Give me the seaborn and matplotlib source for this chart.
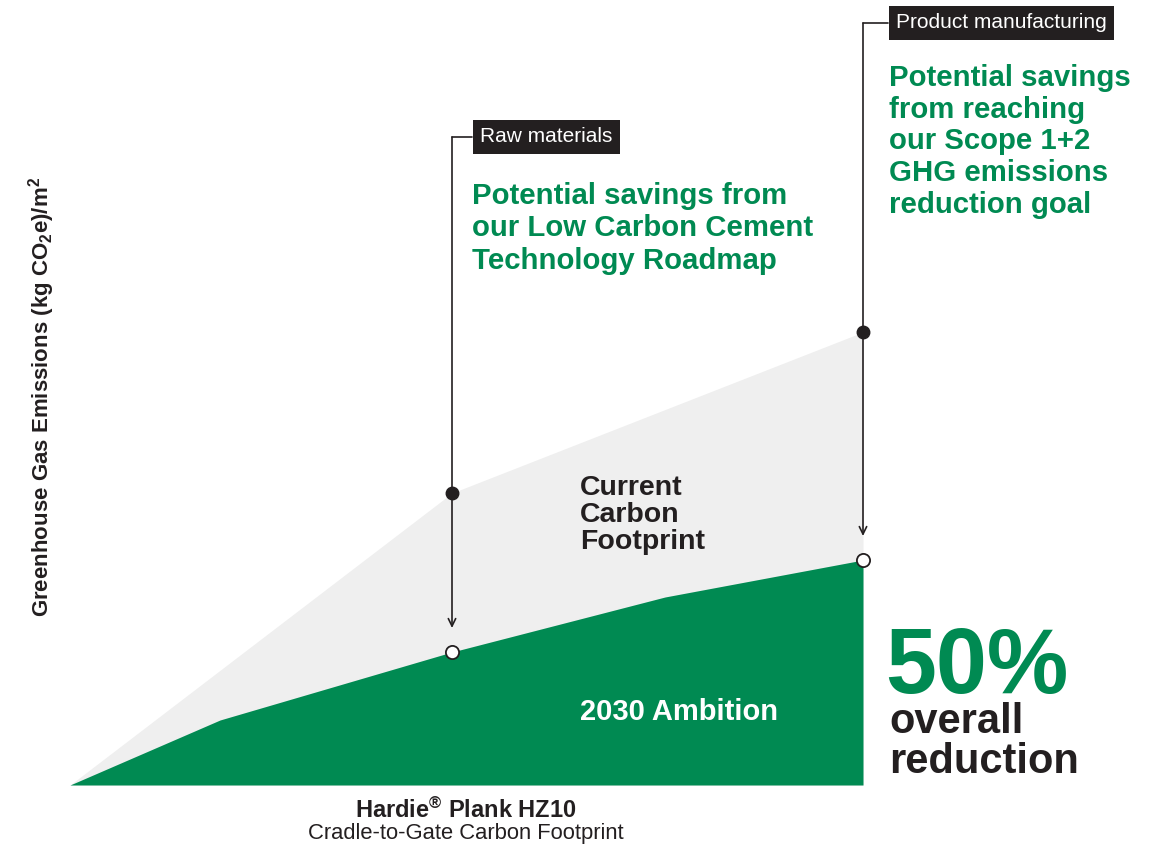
import matplotlib
matplotlib.use("Agg")
import matplotlib.pyplot as plt
import seaborn as sns
import numpy as np
import pandas as pd

sns.set_theme(style="white")
plt.rcParams["font.family"] = ["Liberation Sans", "DejaVu Sans"]
plt.rcParams["mathtext.default"] = "regular"

# 数据 (任意单位, 横轴为生命周期阶段)
current_x = [0, 382, 793]
current_y = [0, 292, 453]
ambition_x = [0, 150, 382, 595, 793]
ambition_y = [0, 65, 133, 188, 225]
stage_names = ["Raw materials", "Product manufacturing"]
stage_x = [382, 793]

GREEN = "#008A52"
GREY = "#EFEFEF"
DARK = "#231F20"

fig = plt.figure(figsize=(11.56, 8.44), dpi=100)
ax = fig.add_axes([70 / 1156, 59 / 844, 793 / 1156, 785 / 844])

cur = pd.DataFrame({"x": current_x, "y": current_y})
amb = pd.DataFrame({"x": ambition_x, "y": ambition_y})

# 当前碳足迹 (灰色) 和 2030目标 (绿色)
sns.lineplot(data=cur, x="x", y="y", ax=ax, color=GREY, lw=0)
ax.fill_between(cur["x"], 0, cur["y"], color=GREY, lw=0)
sns.lineplot(data=amb, x="x", y="y", ax=ax, color=GREEN, lw=0)
ax.fill_between(amb["x"], 0, amb["y"], color=GREEN, lw=0)

ax.set_xlim(0, 793)
ax.set_ylim(0, 785)
ax.axis("off")

# 阶段标注: 竖线, 箭头, 点
label_y = [648, 762]
label_gap = [20, 25]
for name, sx, ly, gap in zip(stage_names, stage_x, label_y, label_gap):
    y_top = np.interp(sx, current_x, current_y)
    y_bot = np.interp(sx, ambition_x, ambition_y)
    ax.plot([sx, sx + gap], [ly, ly], color=DARK, lw=1.2, clip_on=False)
    ax.annotate("", xy=(sx, y_bot + 24), xytext=(sx, ly),
                arrowprops=dict(arrowstyle="->,head_length=0.45,head_width=0.22",
                                color=DARK, lw=1.2, shrinkA=0, shrinkB=0),
                annotation_clip=False)
    ax.plot(sx, y_top, "o", ms=9, color=DARK, clip_on=False, zorder=5)
    ax.plot(sx, y_bot, "o", ms=9.5, mfc="white", mec=DARK, mew=1.3,
            clip_on=False, zorder=5)
    ax.text(sx + gap + 8, ly, name, color="white", fontsize=15, ha="left",
            va="center",
            bbox=dict(boxstyle="square,pad=0.36", fc=DARK, ec="none"))

ax.text(402, 603, "Potential savings from\nour Low Carbon Cement\nTechnology Roadmap",
        color=GREEN, fontsize=21.2, fontweight="bold", ha="left", va="top",
        linespacing=1.2)
ax.text(819, 721, "Potential savings\nfrom reaching\nour Scope 1+2\nGHG emissions\nreduction goal",
        color=GREEN, fontsize=21.2, fontweight="bold", ha="left", va="top",
        linespacing=1.17)

ax.text(510, 310, "Current\nCarbon\nFootprint", color=DARK, fontsize=20.5,
        fontweight="bold", ha="left", va="top", linespacing=1.05)
ax.text(510, 73, "2030 Ambition", color="white", fontsize=21,
        fontweight="bold", ha="left", va="center")

ax.text(815, 116, "50%", color=GREEN, fontsize=66, fontweight="bold",
        ha="left", va="center")
ax.text(819, 83, "overall\nreduction", color=DARK, fontsize=30,
        fontweight="bold", ha="left", va="top", linespacing=1.0)

ax.text(396, -33, r"Hardie$^{\circledR}$ Plank HZ10", color=DARK, fontsize=17,
        fontweight="bold", ha="center", va="baseline")
ax.text(396, -54, "Cradle-to-Gate Carbon Footprint", color=DARK, fontsize=15.8,
        ha="center", va="baseline")
ax.text(-28, 388, r"Greenhouse Gas Emissions (kg CO$_2$e)/m$^2$", color=DARK,
        fontsize=16, fontweight="bold", rotation=90, ha="center", va="center")

fig.savefig("out.png", dpi=100)
